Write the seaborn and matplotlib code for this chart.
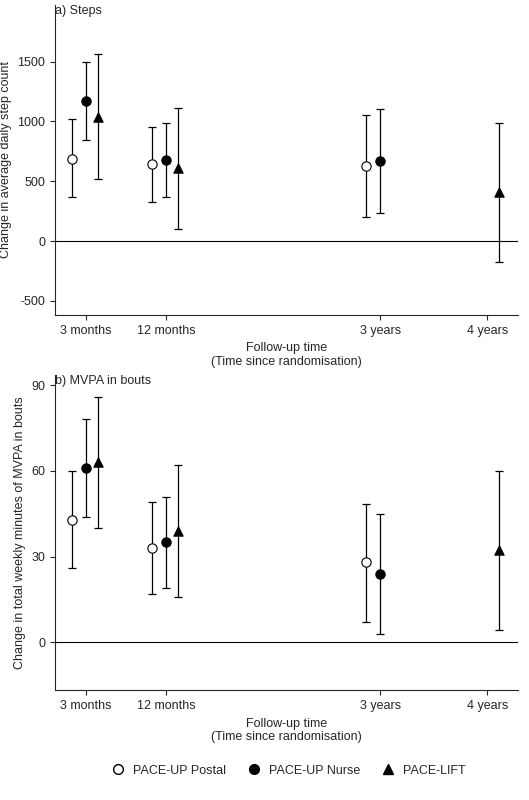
import matplotlib
matplotlib.use("Agg")
import matplotlib.pyplot as plt
import seaborn as sns
import pandas as pd
from matplotlib.lines import Line2D

sns.set_style("ticks")
plt.rcParams['font.family'] = ['Liberation Sans', 'DejaVu Sans']

groups = ["PACE-UP Postal", "PACE-UP Nurse", "PACE-LIFT"]
times = ["3 months", "12 months", "3 years", "4 years"]
tick_months = [3, 12, 36, 48]

steps_group = ["PACE-UP Postal", "PACE-UP Nurse", "PACE-LIFT", "PACE-UP Postal", "PACE-UP Nurse", "PACE-LIFT", "PACE-UP Postal", "PACE-UP Nurse", "PACE-LIFT"]
steps_time = [3, 3, 3, 12, 12, 12, 36, 36, 48]
steps_est = [690, 1170, 1040, 640, 675, 610, 625, 668, 410]
steps_lo = [365, 845, 520, 330, 365, 100, 200, 235, -175]
steps_hi = [1020, 1500, 1565, 955, 990, 1115, 1055, 1100, 990]

mvpa_group = steps_group
mvpa_time = steps_time
mvpa_est = [43, 61, 63, 33, 35, 39, 28, 24, 32.5]
mvpa_lo = [26, 44, 40, 17, 19, 16, 7, 3, 4.5]
mvpa_hi = [60, 78, 86, 49, 51, 62, 48.5, 45, 60]

offsets = {"PACE-UP Postal": -1.6, "PACE-UP Nurse": 0.0, "PACE-LIFT": 1.3}
markers = {"PACE-UP Postal": "o", "PACE-UP Nurse": "o", "PACE-LIFT": "^"}
faces = {"PACE-UP Postal": "white", "PACE-UP Nurse": "black", "PACE-LIFT": "black"}

fig = plt.figure(figsize=(5.29, 8), dpi=100)
ax1 = fig.add_axes([0.104, 0.606, 0.876, 0.388])
ax2 = fig.add_axes([0.104, 0.137, 0.876, 0.394])

def panel(ax, g, t, est, lo, hi, title, ylabel, yticks, ylim):
    df = pd.DataFrame(dict(g=g, t=t, est=est, lo=lo, hi=hi))
    df["x"] = [ti + offsets[gi] for gi, ti in zip(df.g, df.t)]
    ax.axhline(0, color="black", lw=0.8)
    for _, r in df.iterrows():
        ax.errorbar(r.x, r.est, yerr=[[r.est - r.lo], [r.hi - r.est]], fmt="none",
                    ecolor="black", elinewidth=0.9, capsize=3, capthick=0.9)
    for grp in groups:
        sub = df[df.g == grp]
        sns.scatterplot(data=sub, x="x", y="est", ax=ax, marker=markers[grp],
                        color=faces[grp], edgecolor="black", linewidth=0.8, s=45, zorder=3, legend=False)
    ax.set_xlim(-0.5, 51.5)
    ax.set_ylim(*ylim)
    ax.set_yticks(yticks)
    ax.set_yticklabels([str(v) for v in yticks], fontsize=9)
    ax.set_xticks(tick_months)
    ax.set_xticklabels(times, fontsize=9)
    ax.set_xlabel("Follow-up time\n(Time since randomisation)", fontsize=9)
    ax.set_ylabel(ylabel, fontsize=9)
    ax.text(0.0, 1.0, title, transform=ax.transAxes, fontsize=9, va="top", ha="left")
    for s in ["top", "right"]:
        ax.spines[s].set_visible(False)

panel(ax1, steps_group, steps_time, steps_est, steps_lo, steps_hi, "a) Steps",
      "Change in average daily step count", [-500, 0, 500, 1000, 1500], (-620, 1975))
panel(ax2, mvpa_group, mvpa_time, mvpa_est, mvpa_lo, mvpa_hi, "b) MVPA in bouts",
      "Change in total weekly minutes of MVPA in bouts", [0, 30, 60, 90], (-16.8, 93.5))

handles = [Line2D([], [], ls="", marker=markers[g], markerfacecolor=faces[g],
                  markeredgecolor="black", markersize=7) for g in groups]
fig.legend(handles, groups, loc="lower center", ncol=3, frameon=False, fontsize=9,
           bbox_to_anchor=(0.54, 0.015), handletextpad=0.2, columnspacing=1.2)
fig.savefig("out.png", dpi=100)
